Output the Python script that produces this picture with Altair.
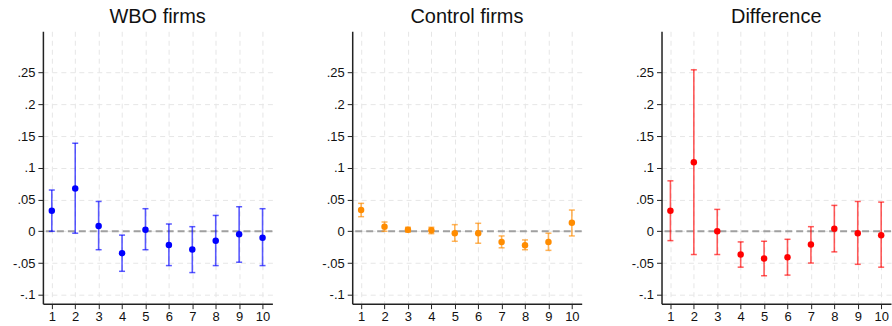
import altair as alt
import pandas as pd

# Horizon (periods) shared by all three panels
periods = [1, 2, 3, 4, 5, 6, 7, 8, 9, 10]

# WBO firms: point estimates and 95% confidence bounds
wbo_est = [0.0324, 0.0675, 0.0084, -0.0345, 0.0026, -0.0215, -0.0288, -0.0150, -0.0047, -0.0100]
wbo_lo = [0.0000, -0.0030, -0.0290, -0.0630, -0.0290, -0.0540, -0.0650, -0.0540, -0.0487, -0.0540]
wbo_hi = [0.0650, 0.1387, 0.0470, -0.0060, 0.0356, 0.0115, 0.0073, 0.0250, 0.0387, 0.0356]

# Control firms
ctl_est = [0.0335, 0.0073, 0.0026, 0.0016, -0.0030, -0.0030, -0.0167, -0.0220, -0.0167, 0.0136]
ctl_lo = [0.0230, 0.0000, -0.0010, -0.0037, -0.0157, -0.0188, -0.0260, -0.0290, -0.0300, -0.0073]
ctl_hi = [0.0440, 0.0147, 0.0063, 0.0063, 0.0105, 0.0126, -0.0073, -0.0136, -0.0030, 0.0335]

# Difference (WBO minus control)
dif_est = [0.0324, 0.1088, 0.0000, -0.0366, -0.0429, -0.0408, -0.0209, 0.0042, -0.0030, -0.0063]
dif_lo = [-0.0147, -0.0366, -0.0366, -0.0565, -0.0700, -0.0690, -0.0500, -0.0324, -0.0520, -0.0565]
dif_hi = [0.0795, 0.2543, 0.0345, -0.0167, -0.0157, -0.0126, 0.0073, 0.0408, 0.0470, 0.0460]

y_ticks = [-0.1, -0.05, 0, 0.05, 0.1, 0.15, 0.2, 0.25]

PANEL_W = 230
PANEL_H = 273


def panel(title, est, lo, hi, color):
    df = pd.DataFrame({"period": periods, "est": est, "lo": lo, "hi": hi})
    x = alt.X(
        "period:Q",
        scale=alt.Scale(domain=[0.62, 10.42], nice=False, zero=False),
        axis=alt.Axis(values=periods, title=None, format="d"),
    )
    y_axis = alt.Axis(
        values=y_ticks,
        title=None,
        labelExpr="datum.value == 0 ? '0' : replace(toString(datum.value), '0.', '.')",
        minExtent=35,
        maxExtent=35,
    )
    y_scale = alt.Scale(domain=[-0.114, 0.315], nice=False, zero=False)

    base = alt.Chart(df)

    zero = (
        alt.Chart(pd.DataFrame({"z": [0]}))
        .mark_rule(color="#a0a0a0", strokeWidth=2, strokeDash=[7, 4])
        .encode(y=alt.Y("z:Q", scale=y_scale, axis=y_axis))
    )
    bars = base.mark_rule(color=color, strokeWidth=1.6, opacity=0.65).encode(
        x=x, y=alt.Y("lo:Q", scale=y_scale, axis=y_axis), y2="hi:Q"
    )
    cap_lo = base.mark_tick(
        color=color, orient="horizontal", size=6, thickness=1.5, opacity=0.65
    ).encode(x=x, y=alt.Y("lo:Q", scale=y_scale, axis=y_axis))
    cap_hi = base.mark_tick(
        color=color, orient="horizontal", size=6, thickness=1.5, opacity=0.65
    ).encode(x=x, y=alt.Y("hi:Q", scale=y_scale, axis=y_axis))
    pts = base.mark_circle(color=color, size=42, opacity=1).encode(
        x=x, y=alt.Y("est:Q", scale=y_scale, axis=y_axis)
    )
    return alt.layer(zero, bars, cap_lo, cap_hi, pts).properties(
        width=PANEL_W, height=PANEL_H, title=title
    )


chart = (
    alt.hconcat(
        panel("WBO firms", wbo_est, wbo_lo, wbo_hi, "#0000ff"),
        panel("Control firms", ctl_est, ctl_lo, ctl_hi, "#ff8c00"),
        panel("Difference", dif_est, dif_lo, dif_hi, "#ff0000"),
        spacing=44,
    )
    .properties(padding={"left": 8, "top": 7, "right": 0, "bottom": 0}, background="white")
    .configure_view(stroke=None)
    .configure_title(
        font="Liberation Sans", fontSize=20, fontWeight="normal", color="#111111",
        anchor="middle", offset=4,
    )
    .configure_axis(
        labelFont="Liberation Sans",
        labelFontSize=13,
        labelColor="#111111",
        domainColor="#222222",
        domainWidth=1.5,
        tickColor="#222222",
        tickSize=5,
        tickWidth=1,
        labelPadding=2,
        grid=True,
        gridColor="#e6e6e6",
        gridDash=[5, 4],
        gridWidth=1,
    )
    .configure_axisY(labelPadding=3)
)

chart.save("out.html", embed_options={"renderer": "svg", "actions": False})
